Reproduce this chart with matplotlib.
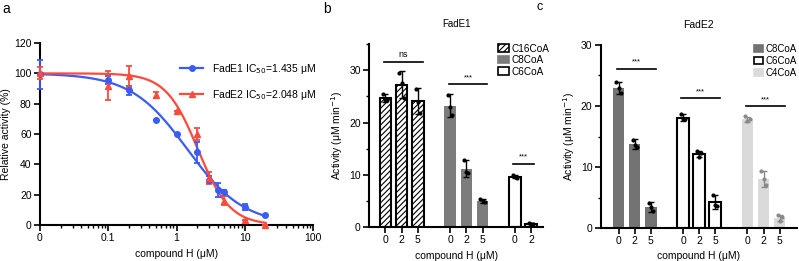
import numpy as np
import matplotlib.pyplot as plt
from matplotlib.patches import Patch

plt.rcParams['font.family'] = 'Liberation Sans'
plt.rcParams['hatch.linewidth'] = 0.8

# ---- panel a: dose response ----
conc1 = [0.01, 0.1, 0.2, 0.5, 1, 2, 3, 4, 5, 10, 20]
act1 = [99.5, 95.5, 89, 69, 60, 48, 30, 23, 22, 12, 6.3]
err1 = [9.5, 2.5, 3, 0, 0, 7, 2, 4.5, 1, 2, 0.5]
conc2 = [0.01, 0.1, 0.2, 0.5, 1, 2, 3, 5, 10, 20]
act2 = [100, 92, 98, 86, 75, 60, 31, 16, 3, 0.3]
err2 = [4, 9.5, 7, 2, 0, 4, 4, 3, 0, 0]
ic50_1, hill1 = 1.435, 1.05
ic50_2, hill2 = 2.048, 1.85

# ---- panel b: FadE1 ----
b_groups = ['C16CoA', 'C8CoA', 'C6CoA']
b_doses = [['0', '2', '5'], ['0', '2', '5'], ['0', '2']]
b_means = [[24.7, 27.2, 24.1], [23.2, 11.2, 5.0], [9.6, 0.6]]
b_err = [[0.8, 2.6, 2.5], [2.2, 1.7, 0.3], [0.3, 0.1]]
b_pts = [[[25.5, 24.3, 24.4], [29.4, 27.6, 24.6], [26.4, 24.0, 21.8]],
         [[25.2, 23.0, 21.4], [12.9, 10.5, 10.3], [5.3, 4.9, 4.8]],
         [[9.9, 9.5, 9.4], [0.7, 0.6, 0.5]]]
b_sig = [('ns', 31.5), ('***', 27.3), ('***', 12.1)]

# ---- panel c: FadE2 ----
c_groups = ['C8CoA', 'C6CoA', 'C4CoA']
c_doses = ['0', '2', '5']
c_means = [[23.0, 13.8, 3.4], [18.1, 12.1, 4.3], [17.8, 8.1, 1.7]]
c_err = [[1.0, 0.8, 0.8], [0.6, 0.5, 1.2], [0.4, 1.3, 0.5]]
c_pts = [[[23.9, 22.9, 22.2], [14.5, 13.6, 13.2], [4.1, 3.5, 2.8]],
         [[18.7, 17.8, 17.8], [12.6, 11.6, 12.3], [5.5, 3.8, 3.6]],
         [[18.4, 17.6, 17.9], [9.3, 8.0, 7.0], [2.1, 1.1, 1.9]]]
c_sig = [('***', 26.1), ('***', 21.3), ('***', 20.0)]

blue = '#3a5cf5'
red = '#fb4b3a'

fig = plt.figure(figsize=(7.99, 2.61), dpi=100)
axa = fig.add_axes([0.050, 0.138, 0.342, 0.697])
axb = fig.add_axes([0.462, 0.130, 0.218, 0.701])
axc = fig.add_axes([0.752, 0.126, 0.245, 0.702])

def style(ax):
    for s in ['top', 'right']:
        ax.spines[s].set_visible(False)
    for s in ['left', 'bottom']:
        ax.spines[s].set_linewidth(1.5)
    ax.tick_params(width=1.2, length=4, labelsize=7.5, pad=2)
    ax.tick_params(which='minor', width=1.0, length=2.5)

def noclip(cont):
    for art in cont.get_children():
        art.set_clip_on(False)

# panel a
style(axa)
xs = np.logspace(-2, np.log10(20), 300)
fit1 = 100 / (1 + (xs / ic50_1) ** hill1)
fit2 = 100 / (1 + (xs / ic50_2) ** hill2)
axa.plot(xs, fit1, color=blue, lw=1.6, zorder=3)
axa.plot(xs, fit2, color=red, lw=1.6, zorder=3)
e1 = axa.errorbar(conc1, act1, yerr=err1, fmt='o', color=blue, ms=4, capsize=2.5,
                  elinewidth=1.3, capthick=1.3, zorder=4)
e2 = axa.errorbar(conc2, act2, yerr=err2, fmt='^', color=red, ms=4, capsize=2.5,
                  elinewidth=1.3, capthick=1.3, zorder=4)
noclip(e1)
noclip(e2)
axa.set_xscale('log')
axa.set_xlim(0.01, 100)
axa.set_ylim(0, 120)
axa.set_xticks([0.01, 0.1, 1, 10, 100])
axa.set_xticklabels(['0', '0.1', '1', '10', '100'])
axa.set_yticks(range(0, 121, 20))
axa.set_xlabel('compound H (μM)', fontsize=7.5, labelpad=4)
axa.set_ylabel('Relative activity (%)', fontsize=7.5, labelpad=2)
h1, = axa.plot([], [], '-o', color=blue, ms=4, lw=1.6)
h2, = axa.plot([], [], '-^', color=red, ms=4, lw=1.6)
axa.legend([h1, h2], ['FadE1 IC$_{50}$=1.435 μM', 'FadE2 IC$_{50}$=2.048 μM'],
           loc='upper left', bbox_to_anchor=(0.48, 0.95), frameon=False,
           fontsize=7.5, handlelength=2.2, labelspacing=1.2)

def bars(ax, positions, means, errs, pts, face, hatch, edge, ptcol):
    for x, m, e, p in zip(positions, means, errs, pts):
        ax.bar(x, m, width=0.72, color=face, hatch=hatch,
               edgecolor=edge, linewidth=1.5 if edge != face else 0, zorder=2)
        ax.errorbar(x, m, yerr=e, fmt='none', ecolor=ptcol, elinewidth=1.0,
                    capsize=2.5, capthick=1.0, zorder=3)
        ax.scatter(np.array([-0.13, 0, 0.13]) + x, p, s=9, color=ptcol, zorder=4,
                   linewidths=0)

# panel b
style(axb)
b_faces = [('white', '//////', 'black'), ('#7c7c7c', None, '#7c7c7c'), ('white', None, 'black')]
ticks, labels = [], []
start = 0
for i in range(3):
    pos = [start + k for k in range(len(b_means[i]))]
    f, h, e = b_faces[i]
    bars(axb, pos, b_means[i], b_err[i], b_pts[i], f, h, e, 'black')
    ticks += pos
    labels += b_doses[i]
    txt, yv = b_sig[i]
    x0, x1 = pos[0] - 0.1, pos[0] + 2.3 if len(pos) == 3 else pos[-1] + 0.2
    axb.plot([x0, x1], [yv, yv], color='black', lw=1.2)
    axb.text((x0 + x1) / 2, yv + 0.6, txt, ha='center', va='bottom',
             fontsize=6.5 if txt == 'ns' else 5.5)
    start += 4
axb.set_xticks(ticks)
axb.set_xticklabels(labels)
axb.set_xlim(-1.0, 9.75)
axb.set_ylim(0, 35)
axb.set_yticks([0, 10, 20, 30])
axb.set_yticks([5, 15, 25, 35], minor=True)
axb.set_title('FadE1', fontsize=7, pad=12)
axb.set_xlabel('compound H (μM)', fontsize=7.5, labelpad=4)
axb.set_ylabel('Activity (μM min$^{-1}$)', fontsize=7.5, labelpad=3)
hb = [Patch(facecolor=f, hatch=h, edgecolor=e, linewidth=1.2) for f, h, e in b_faces]
axb.legend(hb, b_groups, loc='upper left', bbox_to_anchor=(0.71, 1.03), frameon=False,
           fontsize=7.2, handlelength=1.1, handleheight=0.8, labelspacing=0.15,
           handletextpad=0.3, borderpad=0)

# panel c
style(axc)
c_faces = [('#737373', '#737373', 'black'), ('white', 'black', 'black'),
           ('#dadada', '#dadada', '#8a8a8a')]
ticks, labels = [], []
start = 0
for i in range(3):
    pos = [start + k for k in range(3)]
    f, e, pc = c_faces[i]
    bars(axc, pos, c_means[i], c_err[i], c_pts[i], f, None, e, pc)
    ticks += pos
    labels += c_doses
    txt, yv = c_sig[i]
    x0, x1 = pos[0] - 0.1, pos[0] + 2.3
    axc.plot([x0, x1], [yv, yv], color='black', lw=1.2)
    axc.text((x0 + x1) / 2, yv + 0.5, txt, ha='center', va='bottom', fontsize=5.5)
    start += 4
axc.set_xticks(ticks)
axc.set_xticklabels(labels)
axc.set_xlim(-1.1, 11.05)
axc.set_ylim(0, 30)
axc.set_yticks([0, 10, 20, 30])
axc.set_yticks([5, 15, 25], minor=True)
axc.set_title('FadE2', fontsize=7.5, pad=12)
axc.set_xlabel('compound H (μM)', fontsize=7.5, labelpad=3)
axc.set_ylabel('Activity (μM min$^{-1}$)', fontsize=7.5, labelpad=3)
hc = [Patch(facecolor=f, edgecolor=e, linewidth=1.2) for f, e, _ in c_faces]
axc.legend(hc, c_groups, loc='upper left', bbox_to_anchor=(0.755, 1.03), frameon=False,
           fontsize=7.0, handlelength=1.0, handleheight=0.75, labelspacing=0.2,
           handletextpad=0.2, borderpad=0)

fig.text(0.003, 0.965, 'a', fontsize=10, va='center')
fig.text(0.404, 0.965, 'b', fontsize=10, va='center')
fig.text(0.671, 0.972, 'c', fontsize=9, va='center')

fig.savefig('out.png', dpi=100)
